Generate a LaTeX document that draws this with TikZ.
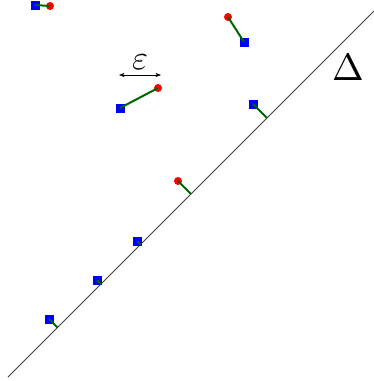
\documentclass[tikz,border=0pt]{standalone}
\usepackage{amsmath}
\usetikzlibrary{arrows.meta,calc}

\begin{document}
\begin{tikzpicture}[
    x=1pt, y=-1pt,
    sq/.style={rectangle, fill=blue, minimum size=9pt, inner sep=0pt},
    rd/.style={circle, fill=red, minimum size=8pt, inner sep=0pt},
    lnk/.style={line width=2pt, draw=green!40!black},
    ax/.style={draw=black!75, line width=0.8pt},
    e/.style={{Stealth[length=2mm]}-{Stealth[length=2mm]}, line width=0.6pt},
  ]
  \useasboundingbox (0,0) rectangle (374,381);
  \coordinate (l0) at (8,377);
  \coordinate (l1) at (374,11);
  \draw[ax] (l0) -- (l1);
  \node[inner sep=0pt] (delta) at (348,68) {\scalebox{3.8}{$\Delta$}};
  % epsilon scale
  \coordinate (ea) at (119,75);
  \coordinate (eb) at (161,75);
  \draw[e] (ea) -- (eb);
  \node[inner sep=0pt] (eps) at (140,62.5) {\scalebox{3.4}{$\varepsilon$}};
  % points
  \node[sq] (s1) at (35,5) {};
  \node[rd] (r1) at (50,6) {};
  \node[rd] (r2) at (228,17) {};
  \node[sq] (s2) at (244,42) {};
  \node[sq] (s3) at (120,108) {};
  \node[rd] (r3) at (158,88) {};
  \node[sq] (s4) at (253,104) {};
  \node[rd] (r5) at (178,181) {};
  \node[sq] (s6) at (137,241) {};
  \node[sq] (s7) at (97,280) {};
  \node[sq] (s8) at (49,319) {};
  % feet on the line
  \coordinate (p4) at ($(l0)!(s4)!(l1)$);
  \coordinate (p5) at ($(l0)!(r5)!(l1)$);
  \coordinate (p6) at ($(l0)!(s6)!(l1)$);
  \coordinate (p7) at ($(l0)!(s7)!(l1)$);
  \coordinate (p8) at ($(l0)!(s8)!(l1)$);
  \draw[lnk] (s1.center) -- (r1.center);
  \draw[lnk] (r2.center) -- (s2.center);
  \draw[lnk] (s3.center) -- (r3.center);
  \draw[lnk] (s4.center) -- (p4);
  \draw[lnk] (r5.center) -- (p5);
  \draw[lnk] (s6.center) -- (p6);
  \draw[lnk] (s7.center) -- (p7);
  \draw[lnk] (s8.center) -- (p8);
\end{tikzpicture}
\end{document}
